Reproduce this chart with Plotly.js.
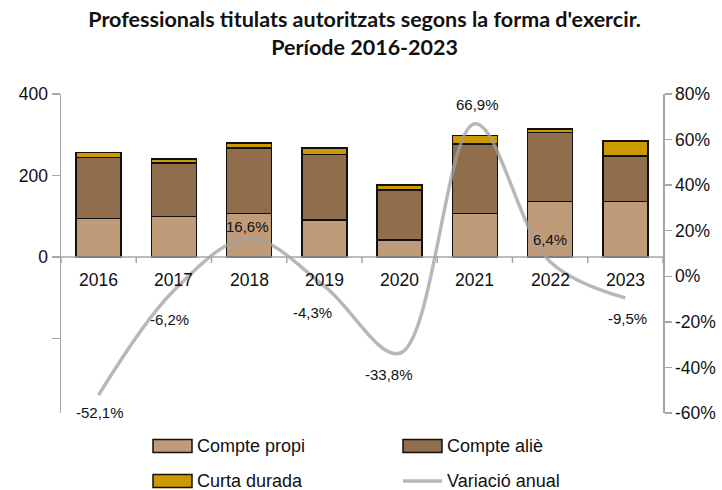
<!DOCTYPE html>
<html><head><meta charset="utf-8">
<script src="https://cdn.plot.ly/plotly-3.0.1.min.js"></script>
<style>html,body{margin:0;padding:0;background:#fff}#chart{width:722px;height:490px}</style>
</head><body><div id="chart"></div>
<script>
// ---- data ----
const years = ['2016','2017','2018','2019','2020','2021','2022','2023'];
const comptePropi = [95, 99, 107, 91, 42, 107, 136, 136];
const compteAlie = [149, 132, 161, 161, 122, 170, 169, 112];
const curtaDurada = [12, 9, 12, 16, 13, 21, 9, 37];
const variacioAnual = [-52.1, -6.2, 16.6, -4.3, -33.8, 66.9, 6.4, -9.5];
const leftTickVals = [-200, 0, 200, 400];
const leftTickText = ['', '0', '200', '400'];
const rightTickVals = [-60, -40, -20, 0, 20, 40, 60, 80];
const rightTickText = ['-60%', '-40%', '-20%', '0%', '20%', '40%', '60%', '80%'];
const seriesNames = ['Compte propi', 'Compte aliè', 'Curta durada', 'Variació anual'];

// ---- style ----
const W = 722, H = 490;
const M = {l: 61, r: 59, t: 94, b: 77};
const leftRange = [-383, 400];
const rightRange = [-60, 80];
const colors = ['#bf9b7a', '#8f6d4d', '#cc9a00', 'rgba(160,160,160,0.75)'];
const axisColor = '#a6a6a6';
const FONT = '"Liberation Sans", Arial, sans-serif';
// label offsets [xshift, yshift] per point
const labelShift = [[1,-17],[-4,-29],[-2,12],[-12,-26],[-11,-21],[3,19],[0,22],[2,-21]];

const px2x = p => (p - M.l) / (W - M.l - M.r);
const px2y = p => (H - M.b - p) / (H - M.t - M.b);

const barLine = {color: '#111', width: 1.5};
const traces = [
  {type: 'bar', x: years, y: comptePropi, name: seriesNames[0], marker: {color: colors[0], line: barLine}, showlegend: false},
  {type: 'bar', x: years, y: compteAlie, name: seriesNames[1], marker: {color: colors[1], line: barLine}, showlegend: false},
  {type: 'bar', x: years, y: curtaDurada, name: seriesNames[2], marker: {color: colors[2], line: barLine}, showlegend: false},
  {type: 'scatter', mode: 'lines', x: years, y: variacioAnual, name: seriesNames[3], xaxis: 'x', yaxis: 'y2',
   line: {color: colors[3], width: 3.5, shape: 'spline', smoothing: 1}, showlegend: false}
];

// category index positions (category axis: serial numbers from zero)
const annotations = variacioAnual.map((v, i) => ({
  x: i, y: v, xref: 'x', yref: 'y2', showarrow: false,
  text: v.toFixed(1).replace('.', ',') + '%',
  xshift: labelShift[i][0], yshift: labelShift[i][1],
  font: {family: FONT, size: 15, color: '#111'}
}));

const shapes = [];
// category axis drawn at value 0 of the left axis
shapes.push({type: 'line', xref: 'paper', yref: 'y', x0: 0, x1: 1, y0: 0, y1: 0,
  line: {color: axisColor, width: 1.5}, layer: 'above'});
for (let i = 0; i <= years.length; i++) {
  shapes.push({type: 'line', xref: 'x', yref: 'y', ysizemode: 'pixel', yanchor: 0,
    x0: i - 0.5, x1: i - 0.5, y0: 0, y1: -6, line: {color: axisColor, width: 1.5}, layer: 'above'});
}
years.forEach((yr, i) => annotations.push({x: i, y: 0, xref: 'x', yref: 'y', yanchor: 'top',
  yshift: -11, showarrow: false, text: yr, font: {family: FONT, size: 17.5, color: '#111'}}));

// custom legend
const legendItems = [
  {name: seriesNames[0], kind: 'box', color: colors[0], x: 153, y: 446},
  {name: seriesNames[1], kind: 'box', color: colors[1], x: 403, y: 446},
  {name: seriesNames[2], kind: 'box', color: colors[2], x: 153, y: 481},
  {name: seriesNames[3], kind: 'line', color: colors[3], x: 403, y: 481}
];
legendItems.forEach(it => {
  if (it.kind === 'box') {
    shapes.push({type: 'rect', xref: 'paper', yref: 'paper',
      x0: px2x(it.x), x1: px2x(it.x + 39), y0: px2y(it.y - 6.5), y1: px2y(it.y + 6.5),
      fillcolor: it.color, line: {color: '#111', width: 1.5}});
  } else {
    shapes.push({type: 'line', xref: 'paper', yref: 'paper',
      x0: px2x(it.x), x1: px2x(it.x + 39), y0: px2y(it.y), y1: px2y(it.y),
      line: {color: it.color, width: 3.5}});
  }
  annotations.push({xref: 'paper', yref: 'paper', x: px2x(it.x + 42), y: px2y(it.y),
    xanchor: 'left', yanchor: 'middle', showarrow: false, text: it.name,
    font: {family: FONT, size: 18, color: '#111'}});
});

const layout = {
  width: W, height: H, margin: M,
  paper_bgcolor: '#fff', plot_bgcolor: '#fff',
  title: {text: "Professionals titulats autoritzats segons la forma d'exercir.<br>Període 2016-2023",
    font: {family: 'Lato, "Liberation Sans", sans-serif', size: 21.5, color: '#111', weight: 'bold'},
    x: 0.505, xanchor: 'center', xref: 'container', y: 1 - 27 / H, yref: 'container', yanchor: 'top'},
  barmode: 'stack', bargap: 0.4,
  showlegend: false,
  xaxis: {type: 'category', range: [-0.5, years.length - 0.5], showline: false, showticklabels: false,
    ticks: '', showgrid: false, zeroline: false},
  yaxis: {range: leftRange, tickmode: 'array', tickvals: leftTickVals, ticktext: leftTickText,
    showline: true, linecolor: axisColor, linewidth: 1.5, ticks: 'outside', ticklen: 8,
    tickcolor: axisColor, tickwidth: 1.5, showgrid: false, zeroline: false,
    tickfont: {family: FONT, size: 17.5, color: '#111'}},
  yaxis2: {range: rightRange, tickmode: 'array', tickvals: rightTickVals, ticktext: rightTickText,
    overlaying: 'y', side: 'right', anchor: 'x',
    showline: true, linecolor: axisColor, linewidth: 1.5, ticks: 'outside', ticklen: 7,
    tickcolor: axisColor, tickwidth: 1.5, showgrid: false, zeroline: false,
    tickfont: {family: FONT, size: 17.5, color: '#111'}},
  shapes: shapes,
  annotations: annotations
};

Plotly.newPlot('chart', traces, layout, {displayModeBar: false, staticPlot: true});
</script>
</body></html>
